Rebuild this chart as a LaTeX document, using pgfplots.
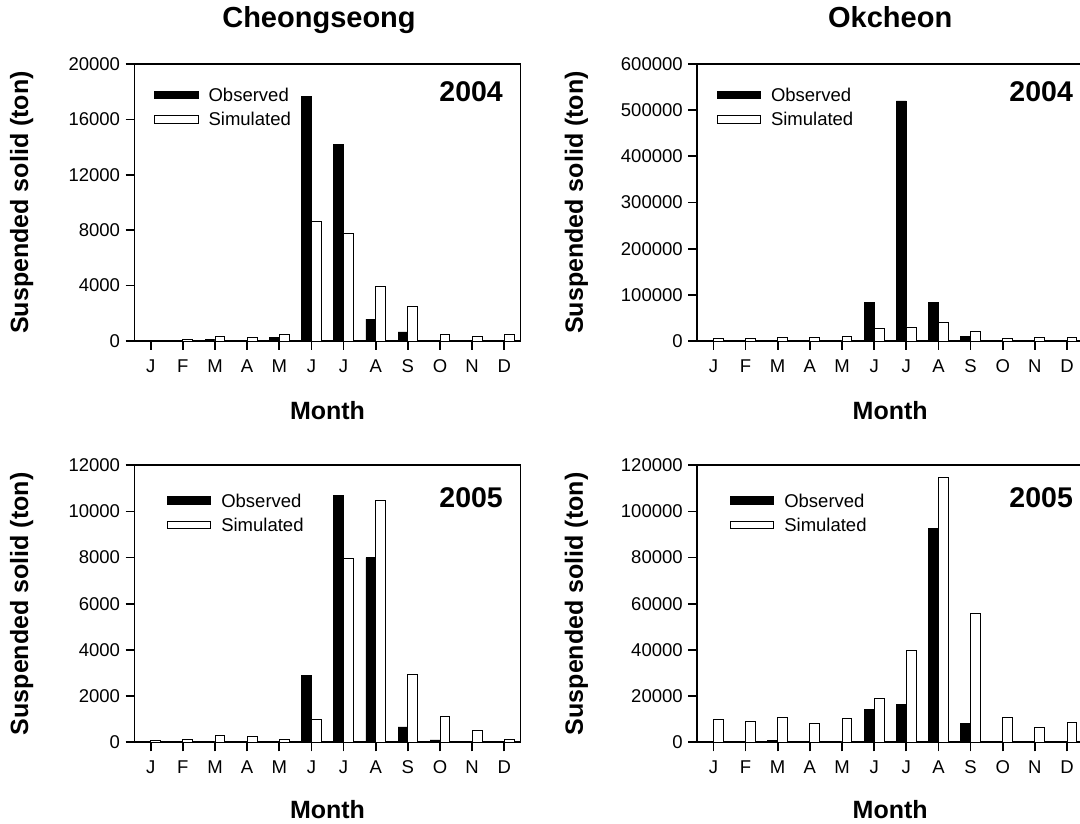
\documentclass[border=0pt]{standalone}
\usepackage{pgfplots}
\pgfplotsset{compat=1.18}
\usepackage{fontspec}
\setmainfont{Liberation Sans}

\tikzset{year/.style={anchor=base east, inner sep=0pt, font=\bfseries\fontsize{28.5}{30}\selectfont}}

\pgfplotsset{
  ss/.style={
    width=385.8pt, height=277pt, scale only axis, anchor=south west,
    xmin=0.5, xmax=12.5, ymin=0,
    xtick={1,...,12}, xticklabels={J,F,M,A,M,J,J,A,S,O,N,D},
    tick pos=left, tick align=outside,
    major tick length=9pt,
    tick style={black, line width=1.7pt},
    axis line style={line width=1.8pt},
    scaled y ticks=false,
    /pgf/number format/assume math mode=true,
    /pgf/number format/fixed,
    /pgf/number format/1000 sep={},
    tick label style={font=\fontsize{18.5}{20}\selectfont},
    xticklabel style={yshift=-5.8pt},
    yticklabel style={xshift=-2.1pt},
    xlabel=Month, ylabel={Suspended solid (ton)},
    label style={font=\bfseries\fontsize{25}{28}\selectfont},
    xlabel style={at={(axis description cs:0.5,0)}, anchor=north, yshift=-60.5pt, inner sep=0pt},
    ylabel style={at={(axis description cs:0,0.5)}, anchor=center},
    title style={at={(axis description cs:0.5,1)}, anchor=base, yshift=30.7pt, inner sep=0pt,
      font=\bfseries\fontsize{29}{32}\selectfont},
    legend cell align=left,
    legend style={draw=none, fill=none, inner sep=0pt, outer sep=0pt, anchor=north west,
      row sep=6.3pt, column sep=10pt, font=\fontsize{18.5}{20}\selectfont,
      nodes={inner sep=0pt, text height=14pt, text depth=4pt}},
  },
  obs/.style={ybar, bar width=9.8pt, bar shift=-4.9pt, fill=black, draw=black, line width=0.8pt,
    legend image code/.code={\draw[fill=black, draw=black] (0pt,-2.2pt) rectangle (43.4pt,5.4pt);}},
  sim/.style={ybar, bar width=9.8pt, bar shift=4.9pt, fill=white, draw=black, line width=0.8pt,
    legend image code/.code={\draw[fill=white, draw=black, line width=0.9pt] (0pt,-2.2pt) rectangle (43.4pt,5.4pt);}},
}

\begin{document}
\begin{tikzpicture}[x=1pt,y=1pt]
\useasboundingbox (0,0) rectangle (1080,824);

% Cheongseong 2004
\begin{axis}[ss, at={(134.6pt,483pt)}, ymax=20000, ytick={0,4000,...,20000},
  title=Cheongseong, title style={xshift=-8.5pt}, ylabel style={yshift=113pt},
  legend style={at={(axis description cs:0,1)}, xshift=19.7pt, yshift=-23.7pt}]
\addplot[obs] coordinates {(1,0)(2,0)(3,100)(4,0)(5,265)(6,17650)(7,14190)(8,1570)(9,650)(10,0)(11,0)(12,0)};
\addplot[sim] coordinates {(1,70)(2,100)(3,360)(4,290)(5,460)(6,8600)(7,7800)(8,3930)(9,2480)(10,460)(11,340)(12,460)};
\legend{Observed,Simulated}
\node[year] at (rel axis cs:0.955,0.863) {2004};
\end{axis}

% Okcheon 2004
\begin{axis}[ss, at={(697.3pt,483pt)}, ymax=600000, ytick={0,100000,...,600000},
  title=Okcheon, ylabel style={yshift=121pt},
  legend style={at={(axis description cs:0,1)}, xshift=19.4pt, yshift=-23.7pt}]
\addplot[obs] coordinates {(1,0)(2,0)(3,0)(4,0)(5,0)(6,83000)(7,520000)(8,83000)(9,9400)(10,0)(11,0)(12,0)};
\addplot[sim] coordinates {(1,6500)(2,6500)(3,8000)(4,8700)(5,9400)(6,26800)(7,30400)(8,39800)(9,20200)(10,6500)(11,8700)(12,8700)};
\legend{Observed,Simulated}
\node[year] at (rel axis cs:0.974,0.863) {2004};
\end{axis}

% Cheongseong 2005
\begin{axis}[ss, at={(134.6pt,81.7pt)}, ymax=12000, ytick={0,2000,...,12000},
  ylabel style={yshift=113pt}, xlabel style={yshift=2.5pt},
  legend style={at={(axis description cs:0,1)}, xshift=32.4pt, yshift=-27.8pt}]
\addplot[obs] coordinates {(1,0)(2,0)(3,43)(4,0)(5,0)(6,2900)(7,10690)(8,8000)(9,663)(10,100)(11,0)(12,0)};
\addplot[sim] coordinates {(1,87)(2,130)(3,290)(4,245)(5,130)(6,995)(7,7950)(8,10500)(9,2956)(10,1125)(11,520)(12,130)};
\legend{Observed,Simulated}
\node[year] at (rel axis cs:0.955,0.849) {2005};
\end{axis}

% Okcheon 2005
\begin{axis}[ss, at={(697.3pt,81.7pt)}, ymax=120000, ytick={0,20000,...,120000},
  ylabel style={yshift=121pt}, xlabel style={yshift=2.5pt},
  legend style={at={(axis description cs:0,1)}, xshift=32.7pt, yshift=-27.8pt}]
\addplot[obs] coordinates {(1,0)(2,0)(3,720)(4,0)(5,0)(6,14420)(7,16580)(8,92720)(9,8220)(10,0)(11,0)(12,0)};
\addplot[sim] coordinates {(1,10100)(2,8940)(3,10670)(4,8075)(5,10380)(6,19030)(7,39650)(8,114640)(9,55660)(10,10960)(11,6490)(12,8510)};
\legend{Observed,Simulated}
\node[year] at (rel axis cs:0.974,0.849) {2005};
\end{axis}
\end{tikzpicture}
\end{document}
